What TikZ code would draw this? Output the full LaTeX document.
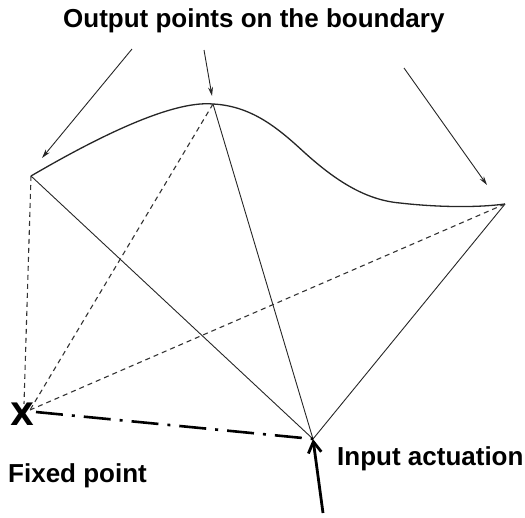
\documentclass[tikz,border=0pt]{standalone}
\usepackage{fontspec}
\setmainfont{Liberation Sans}
\newfontfamily\heavyfont{DejaVu Sans}
\usetikzlibrary{arrows.meta}
\begin{document}
\begin{tikzpicture}[x=1pt,y=-1pt,
  lbl/.style={font=\fontsize{26}{30}\selectfont\bfseries, inner sep=0pt, anchor=base west},
  edge/.style={line width=0.9pt, draw=black!85},
  dashedge/.style={line width=1.1pt, draw=black!80, dash pattern=on 5pt off 4pt},
  pointer/.style={line width=0.9pt, draw=black!85, -{Stealth[length=9pt,width=5pt]}},
  boundary/.style={line width=1.3pt, draw=black!85},
  fixedlink/.style={line width=2.6pt, draw=black, dash pattern=on 27pt off 9pt on 3pt off 9pt},
  actuate/.style={line width=2.8pt, draw=black, -{Straight Barb[length=11pt,width=13pt,line width=2.8pt]}}]
\useasboundingbox (0,0) rectangle (525,517);
% key points
\coordinate (L) at (31,176);
\coordinate (T) at (213,104);
\coordinate (R) at (505,204);
\coordinate (B) at (313,439);
\coordinate (F) at (30,410);
\node[font=\heavyfont\fontsize{31}{34}\selectfont\bfseries, inner sep=0pt] (X) at (22,414) {X};
% pointer tails
\coordinate (a1) at (132,49);
\coordinate (a2) at (204,50);
\coordinate (a3) at (404,68);
\coordinate (t1) at (42,158);
\coordinate (t2) at (212,96);
\coordinate (t3) at (487,185);
\coordinate (in0) at (323,513);
% boundary curve
\draw[boundary] (L) .. controls (91,141) and (170,100) .. (T)
  .. controls (253,106) and (280,130) .. (305,153)
  .. controls (335,180) and (365,200) .. (400,203)
  .. controls (435,207) and (475,208) .. (R);
% solid links
\draw[edge] (L) -- (B);
\draw[edge] (T) -- (B);
\draw[edge] (R) -- (B);
% dashed links
\draw[dashedge] (L) -- (24,404);
\draw[dashedge] (T) -- (F);
\draw[dashedge] (R) -- (F);
% fixed link
\draw[fixedlink] (36,412) -- (B);
% pointers
\draw[pointer] (a1) -- (t1);
\draw[pointer] (a2) -- (t2);
\draw[pointer] (a3) -- (t3);
\draw[actuate] (in0) -- (B);
% labels
\node[lbl] (out) at (63,27) {Output points on the boundary};
\node[lbl] (fix) at (8,482) {Fixed point};
\node[lbl] (inp) at (337,465) {Input actuation};
\end{tikzpicture}
\end{document}
